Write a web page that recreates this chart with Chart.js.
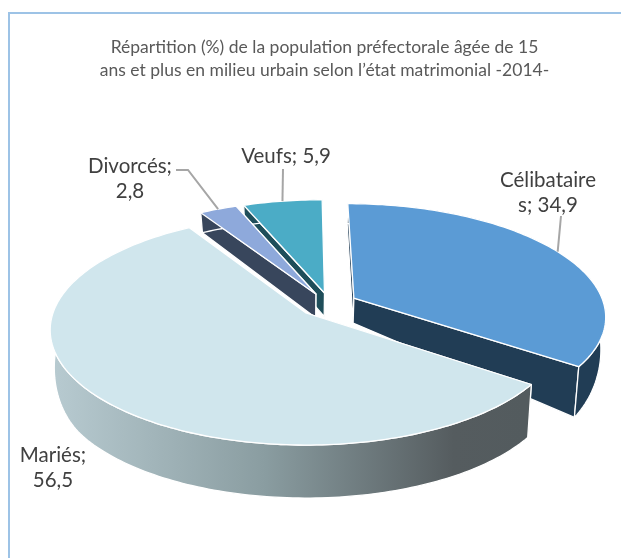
<!DOCTYPE html>
<html lang="fr">
<head>
<meta charset="utf-8">
<title>Répartition de la population</title>
<script src="https://cdn.jsdelivr.net/npm/chart.js@4"></script>
<style>
    html, body { margin: 0; padding: 0; background: #fff; }
    canvas { display: block; }
</style>
</head>
<body>
<canvas id="chart" width="621" height="558"></canvas>
<script>
// Chart data
const categories = ['Célibataires', 'Mariés', 'Divorcés', 'Veufs'];
const shares = [34.9, 56.5, 2.8, 5.9];
const titleLines = [
    'Répartition (%) de la population préfectorale âgée de 15',
    'ans et plus en milieu urbain selon l’état matrimonial -2014-'
];

// Slice colours
const topColors = ['#5B9BD5', '#D0E6ED', '#8EA9DB', '#4BACC6'];
const sideColors = ['#213D55', '#8A9DA1', '#38465C', '#1F4E5A'];

// 3D look: how far each slice is pulled out, and the order it is painted in
const sliceShift = [[0.193, 0.135], [0, 0], [0.04, 0.173], [0.075, 0.183]];
const paintOrder = [3, 2, 0, 1];

// Label placement: text centre, where the line breaks, leader line elbow
const labelCenter = [[548, 180], [53, 455], [130, 166], [286, 156]];
const labelBreak = [11, 7, 9, 0];
const leaderPath = [[[561, 216]], null, [[188, 170], [176, 170]], [[283, 169]]];

// Perspective of the pie plane
const view = { x: 306, y: 313, rx: 253, ry: 112.5, k: 0.148 };

function project(px, py) {
    const w = 1 + view.k * py;
    return { x: view.x + view.rx * px / w, y: view.y - view.ry * py / w };
}

function lower(p) {
    const t = Math.min(1, Math.max(0, (p.y - 270) / 115));
    return { x: p.x - (p.x - view.x) * 0.016, y: p.y + 20 + 33 * t * t * (3 - 2 * t) };
}

function rimPoints(arc, i) {
    const pts = [];
    const [sx, sy] = sliceShift[i];
    const steps = Math.max(4, Math.ceil((arc.endAngle - arc.startAngle) / 0.02));
    for (let s = 0; s <= steps; s++) {
        const a = arc.startAngle + (arc.endAngle - arc.startAngle) * s / steps;
        pts.push(project(Math.cos(a) + sx, -Math.sin(a) + sy));
    }
    return pts;
}

function fillPoly(ctx, pts, fill) {
    ctx.beginPath();
    pts.forEach((p, n) => n ? ctx.lineTo(p.x, p.y) : ctx.moveTo(p.x, p.y));
    ctx.closePath();
    ctx.fillStyle = fill;
    ctx.fill();
    ctx.stroke();
}

const pie3d = {
    id: 'pie3d',
    beforeDraw(chart) {
        // frame of the original picture, open on the right and at the bottom
        const ctx = chart.ctx;
        ctx.save();
        ctx.strokeStyle = '#9DC3E6';
        ctx.lineWidth = 2;
        ctx.beginPath();
        ctx.moveTo(9, 558);
        ctx.lineTo(9, 13);
        ctx.lineTo(621, 13);
        ctx.stroke();
        ctx.restore();
    },
    // the library works out the slice angles, this paints them tilted
    beforeDatasetsDraw(chart) {
        const ctx = chart.ctx;
        const arcs = chart.getDatasetMeta(0).data;
        ctx.save();
        ctx.lineJoin = 'round';
        ctx.strokeStyle = '#fff';
        ctx.lineWidth = 1.3;
        paintOrder.forEach(i => {
            const rim = rimPoints(arcs[i], i);
            const apex = project(sliceShift[i][0], sliceShift[i][1]);
            // the cut face further back goes first so the nearer one stays on top
            const ends = [rim[0], rim[rim.length - 1]].sort((a, b) => a.y - b.y);
            ends.forEach(p => fillPoly(ctx, [apex, p, lower(p), lower(apex)], sideColors[i]));
            let rimFill = sideColors[i];
            if (i === 1) {
                rimFill = ctx.createLinearGradient(50, 0, 525, 0);
                rimFill.addColorStop(0, '#B8CBD1');
                rimFill.addColorStop(0.45, '#8A9DA1');
                rimFill.addColorStop(0.85, '#555C5F');
                rimFill.addColorStop(1, '#535B5E');
            }
            fillPoly(ctx, rim.concat(rim.map(lower).reverse()), rimFill);
            fillPoly(ctx, [apex].concat(rim), topColors[i]);
        });
        ctx.restore();
        return false;
    },
    afterDraw(chart) {
        const ctx = chart.ctx;
        const arcs = chart.getDatasetMeta(0).data;
        ctx.save();
        categories.forEach((name, i) => {
            const path = leaderPath[i];
            if (path) {
                const mid = (arcs[i].startAngle + arcs[i].endAngle) / 2;
                const end = project(Math.cos(mid) + sliceShift[i][0], -Math.sin(mid) + sliceShift[i][1]);
                ctx.strokeStyle = '#A6A6A6';
                ctx.lineWidth = 2;
                ctx.beginPath();
                ctx.moveTo(end.x, end.y);
                path.forEach(p => ctx.lineTo(p[0], p[1]));
                ctx.stroke();
            }
            const label = name + '; ' + String(shares[i]).replace('.', ',');
            const cut = labelBreak[i];
            const lines = cut ? [label.slice(0, cut), label.slice(cut).trim()] : [label];
            ctx.fillStyle = '#404040';
            ctx.font = '20.5px Lato';
            ctx.textAlign = 'center';
            ctx.textBaseline = 'middle';
            lines.forEach((line, n) => {
                ctx.fillText(line, labelCenter[i][0], labelCenter[i][1] + n * 25.5);
            });
        });
        ctx.restore();
    }
};

new Chart(document.getElementById('chart'), {
    type: 'pie',
    plugins: [pie3d],
    data: {
        labels: categories,
        datasets: [{
            data: shares,
            backgroundColor: topColors
        }]
    },
    options: {
        responsive: false,
        animation: false,
        layout: {
            padding: { left: 28, top: 26 }
        },
        plugins: {
            legend: { display: false },
            tooltip: { enabled: false },
            title: {
                display: true,
                text: titleLines,
                color: '#595959',
                font: { family: 'Lato', size: 17.5, weight: 'normal', lineHeight: 1.32 }
            }
        }
    }
});
</script>
</body>
</html>
